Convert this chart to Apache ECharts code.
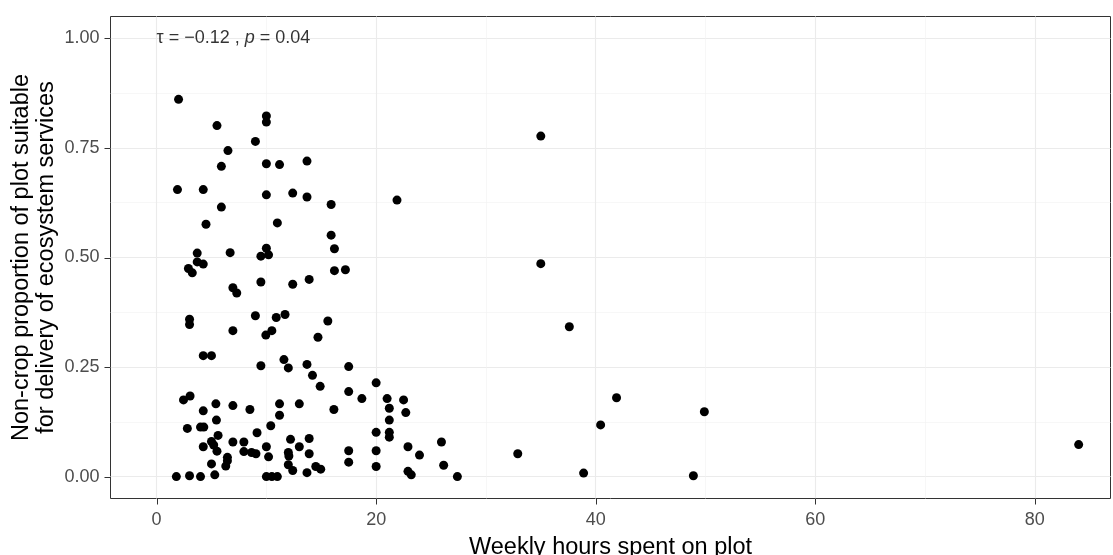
<!DOCTYPE html>
<html>
<head>
<meta charset="utf-8">
<title>Weekly hours vs non-crop proportion</title>
<script src="https://cdn.jsdelivr.net/npm/echarts@6/dist/echarts.min.js"></script>
<style>
  html, body { margin: 0; padding: 0; background: #ffffff; }
  #chart { width: 1113px; height: 555px; }
</style>
</head>
<body>
<div id="chart"></div>
<script>
// Weekly hours spent on the plot (x) for each surveyed plot
const hours = [
  2.0, 10.0, 10.0, 5.5, 9.0, 6.5, 10.0, 11.2, 5.9, 13.7,
  1.9, 4.25, 10.0, 12.4, 13.7, 15.9, 5.9, 4.5, 11.0, 15.9,
  16.2, 10.0, 9.5, 10.2, 3.7, 6.7, 3.7, 4.25, 2.9, 3.25,
  16.2, 21.9, 17.2,
  9.5, 12.4, 13.9, 6.95, 7.3, 9.0, 10.9, 11.7, 15.6, 3.0,
  3.0, 6.95, 9.95, 10.5, 14.7, 4.25, 5.0, 9.5, 11.6, 12.0,
  13.7, 14.2, 14.9, 2.45, 3.05, 5.4, 6.95, 8.5, 11.2, 13.0,
  16.15, 4.25, 5.45, 11.2, 2.8, 4.0, 4.3, 10.4, 5.6, 9.15,
  4.25, 5.0, 5.2, 5.5, 6.95, 7.95, 7.95, 8.65, 9.05, 10.0,
  10.2, 12.2, 13.0, 13.9, 12.0, 12.05, 13.9, 5.0, 6.45, 6.45,
  6.3, 12.0, 12.4, 13.7, 14.5, 14.95, 1.8, 3.0, 4.0, 5.3,
  10.0, 10.5, 11.0,
  17.5, 17.5, 18.7, 20.0, 21.0, 22.5, 21.2, 22.7, 21.2, 20.0,
  21.2, 21.2, 17.5, 17.5, 20.0, 20.0, 22.9, 23.95, 25.95, 26.15,
  27.4, 22.9, 23.2,
  35.0, 35.0, 37.6, 41.9, 40.45, 49.9, 32.9, 38.9, 48.9,
  84.0
];

// Non-crop proportion of the plot suitable for ecosystem services (y)
const proportion = [
  0.861, 0.823, 0.809, 0.801, 0.765, 0.744, 0.714, 0.712, 0.708, 0.720,
  0.655, 0.655, 0.643, 0.647, 0.638, 0.621, 0.615, 0.576, 0.579, 0.551,
  0.520, 0.521, 0.503, 0.506, 0.510, 0.511, 0.490, 0.485, 0.475, 0.465,
  0.470, 0.631, 0.472,
  0.444, 0.439, 0.450, 0.431, 0.419, 0.367, 0.363, 0.370, 0.355, 0.359,
  0.347, 0.333, 0.323, 0.333, 0.318, 0.276, 0.276, 0.253, 0.267, 0.248,
  0.256, 0.231, 0.206, 0.175, 0.184, 0.166, 0.162, 0.153, 0.166, 0.166,
  0.153, 0.150, 0.129, 0.140, 0.110, 0.113, 0.113, 0.116, 0.094, 0.100,
  0.068, 0.080, 0.072, 0.058, 0.079, 0.079, 0.057, 0.055, 0.052, 0.068,
  0.045, 0.085, 0.068, 0.087, 0.055, 0.047, 0.052, 0.029, 0.044, 0.036,
  0.024, 0.027, 0.014, 0.009, 0.023, 0.017, 0.000, 0.002, 0.000, 0.004,
  0.000, 0.000, 0.000,
  0.251, 0.194, 0.178, 0.214, 0.178, 0.175, 0.156, 0.146, 0.129, 0.101,
  0.101, 0.090, 0.059, 0.033, 0.059, 0.023, 0.068, 0.049, 0.079, 0.026,
  0.000, 0.012, 0.004,
  0.777, 0.486, 0.342, 0.180, 0.118, 0.148, 0.052, 0.008, 0.002,
  0.073
];

// Tick positions (major carry labels, minor only draw grid lines)
const xMajorTicks = [0, 20, 40, 60, 80];
const xMinorTicks = [10, 30, 50, 70];
const yMajorTicks = [0, 0.25, 0.5, 0.75, 1.0];
const yMinorTicks = [0.125, 0.375, 0.625, 0.875];

// Kendall correlation annotation
const tauText = '\u03c4 = \u22120.12';
const pText = '0.04';

const xRange = [-4.2, 86.9];
const yRange = [-0.05, 1.05];

const points = hours.map((h, i) => [h, proportion[i]]);

const FONT = 'Liberation Sans, Arial, sans-serif';
const gridMajor = { color: '#EBEBEB', width: 1.1 };
const gridMinor = { color: '#F2F2F2', width: 0.6 };
const frame = { color: '#333333', width: 1 };
const TICK_LEN = 6;

// Outward tick marks on the panel edges, placed through the axis scales
function tickRenderer(dir) {
  return function (params, api) {
    if (dir === 'x') {
      const p = api.coord([api.value(0), yRange[0]]);
      const x = Math.round(p[0]) + 0.5;
      return { type: 'line', silent: true,
        shape: { x1: x, y1: p[1], x2: x, y2: p[1] + TICK_LEN },
        style: { stroke: frame.color, lineWidth: 1 } };
    }
    const p = api.coord([xRange[0], api.value(0)]);
    const y = Math.round(p[1]) + 0.5;
    return { type: 'line', silent: true,
      shape: { x1: p[0] - TICK_LEN, y1: y, x2: p[0], y2: y },
      style: { stroke: frame.color, lineWidth: 1 } };
  };
}

const chart = echarts.init(document.getElementById('chart'), null, { renderer: 'canvas' });

chart.setOption({
  animation: false,
  backgroundColor: '#ffffff',
  grid: {
    left: 110.5, right: 2.5, top: 16.5, bottom: 56.5,
    containLabel: false,
    outerBoundsMode: 'none',
    show: true,
    borderColor: '#333333',
    borderWidth: 1,
    backgroundColor: 'transparent'
  },
  xAxis: [
    {
      type: 'value',
      position: 'bottom',
      min: xRange[0], max: xRange[1],
      name: 'Weekly hours spent on plot',
      nameLocation: 'middle',
      nameGap: 37,
      nameMoveOverlap: false,
      nameTextStyle: { color: '#000000', fontSize: 23.5, fontFamily: FONT },
      axisLine: { show: false, onZero: false },
      axisTick: { show: false, customValues: xMajorTicks },
      axisLabel: { customValues: xMajorTicks, color: '#4D4D4D', fontSize: 18,
        fontFamily: FONT, margin: 13 },
      splitLine: { show: true, lineStyle: gridMajor }
    },
    {
      type: 'value',
      min: xRange[0], max: xRange[1],
      axisLine: { show: false, onZero: false },
      axisTick: { show: false, customValues: xMinorTicks },
      axisLabel: { show: false, customValues: xMinorTicks },
      splitLine: { show: true, lineStyle: gridMinor }
    }
  ],
  yAxis: [
    {
      type: 'value',
      position: 'left',
      min: yRange[0], max: yRange[1],
      name: 'Non-crop proportion of plot suitable\nfor delivery of ecosystem services',
      nameLocation: 'middle',
      nameGap: 51,
      nameMoveOverlap: false,
      nameTextStyle: { color: '#000000', fontSize: 23.5, fontFamily: FONT,
        lineHeight: 25, align: 'center' },
      axisLine: { show: false, onZero: false },
      axisTick: { show: false, customValues: yMajorTicks },
      axisLabel: { customValues: yMajorTicks, color: '#4D4D4D', fontSize: 18,
        fontFamily: FONT, margin: 11, formatter: v => v.toFixed(2) },
      splitLine: { show: true, lineStyle: gridMajor }
    },
    {
      type: 'value',
      min: yRange[0], max: yRange[1],
      axisLine: { show: false, onZero: false },
      axisTick: { show: false, customValues: yMinorTicks },
      axisLabel: { show: false, customValues: yMinorTicks },
      splitLine: { show: true, lineStyle: gridMinor }
    }
  ],
  series: [
    {
      type: 'scatter',
      xAxisIndex: 0, yAxisIndex: 0,
      data: points,
      symbol: 'circle',
      symbolSize: 9,
      itemStyle: { color: '#000000', opacity: 1 },
      emphasis: { disabled: true },
      z: 5
    },
    {
      type: 'scatter',
      xAxisIndex: 0, yAxisIndex: 0,
      data: [[0, 1.0]],
      symbolSize: 0,
      silent: true,
      label: {
        show: true,
        position: 'right',
        distance: 0,
        formatter: '{n|' + tauText + ' , }{i|p}{n| = ' + pText + '}',
        rich: {
          n: { fontSize: 18, color: '#000000', fontFamily: FONT },
          i: { fontSize: 18, color: '#000000', fontFamily: FONT, fontStyle: 'italic' }
        }
      },
      z: 6
    },
    {
      type: 'custom',
      name: 'x ticks',
      xAxisIndex: 0, yAxisIndex: 0,
      data: xMajorTicks.map(v => [v]),
      encode: { x: 0 },
      clip: false,
      silent: true,
      renderItem: tickRenderer('x'),
      z: 7
    },
    {
      type: 'custom',
      name: 'y ticks',
      xAxisIndex: 0, yAxisIndex: 0,
      data: yMajorTicks.map(v => [v]),
      encode: { y: 0 },
      clip: false,
      silent: true,
      renderItem: tickRenderer('y'),
      z: 7
    }
  ]
});
</script>
</body>
</html>
